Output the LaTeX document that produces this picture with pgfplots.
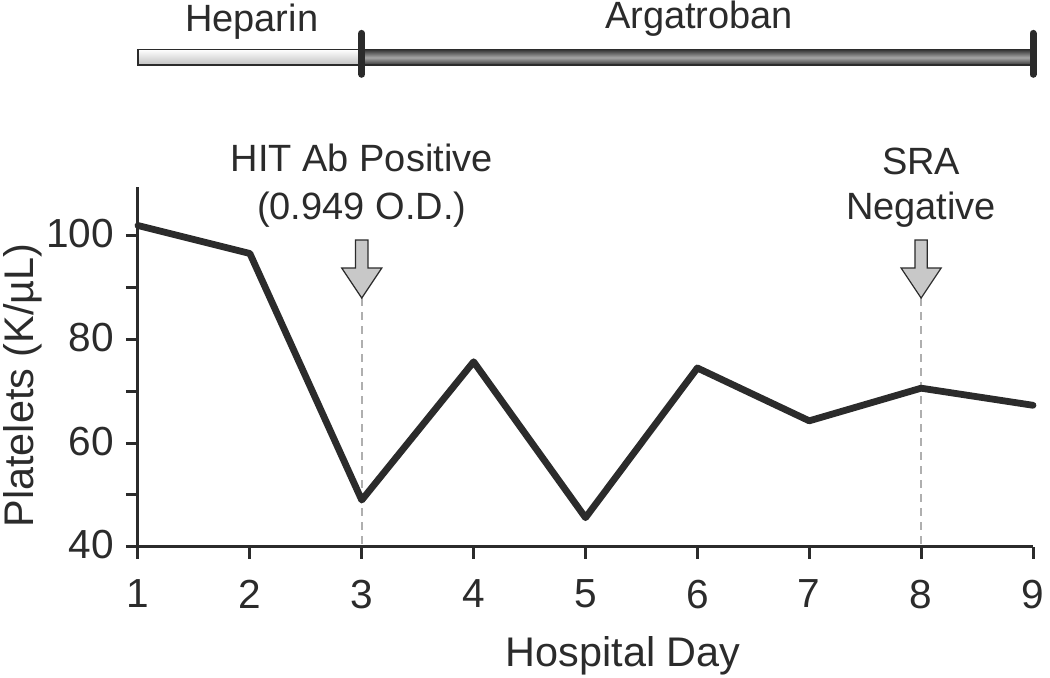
\documentclass[border=0pt]{standalone}
\usepackage{pgfplots}
\pgfplotsset{compat=1.18}
\usepackage{fontspec}
\setmainfont{Liberation Sans}
\definecolor{ink}{HTML}{2B2B2B}
\definecolor{arrowfill}{HTML}{C8C8C8}
\definecolor{dashgray}{HTML}{AFAFAF}

\begin{document}
\begin{tikzpicture}
% page = 1050 x 678 px at 0.5pt per px, axis origin at px (138, 546.7)
\useasboundingbox (-69pt,-65.65pt) rectangle (456pt,273.35pt);
\begin{axis}[
    scale only axis,
    width=447.5pt, height=180pt,
    xmin=1, xmax=9,
    ymin=40, ymax=109.5,
    clip=false,
    axis x line=bottom,
    axis y line=left,
    axis line style={-, line width=1.5pt, color=ink},
    xtick={1,...,9},
    ytick={40,60,80,100},
    minor ytick={50,70,90},
    tick align=outside,
    major tick length=6pt,
    minor tick length=6pt,
    tick style={line width=1.5pt, color=ink},
    tick label style={font=\fontsize{20.3}{24}\selectfont, text=ink},
    xticklabel style={yshift=-7pt},
    yticklabel style={yshift=1pt, xshift=-2.5pt},
    /pgf/number format/assume math mode=true,
    font=\fontsize{19}{23}\selectfont,
]
% treatment bars
\shade[top color=white, bottom color=black!25, draw=ink, line width=0.8pt]
    (1,132.94) rectangle (3,135.97);
\shade[top color=black!80, bottom color=black!80, middle color=black!35, draw=ink, line width=0.8pt]
    (3,132.94) rectangle (9,135.97);
\draw[line width=3.5pt, ink, line cap=round] (3,131.2) -- (3,139.1);
\draw[line width=3.5pt, ink, line cap=round] (9,131.2) -- (9,139.1);
\node[anchor=base, text=ink] at (2.016,139.4) {Heparin};
\node[anchor=base, text=ink] at (6.015,140.0) {Argatroban};

% test markers
\draw[dashgray, line width=0.8pt, dash pattern=on 4pt off 3pt] (3,88) -- (3,40);
\draw[dashgray, line width=0.8pt, dash pattern=on 4pt off 3pt] (8,88) -- (8,40);
\filldraw[fill=arrowfill, draw=ink, line width=0.6pt]
    (2.945,99.2) -- (3.055,99.2) -- (3.055,93.8) -- (3.179,93.8)
    -- (3,88) -- (2.821,93.8) -- (2.945,93.8) -- cycle;
\filldraw[fill=arrowfill, draw=ink, line width=0.6pt]
    (7.945,99.2) -- (8.055,99.2) -- (8.055,93.8) -- (8.179,93.8)
    -- (8,88) -- (7.821,93.8) -- (7.945,93.8) -- cycle;
\node[anchor=base, text=ink] at (3,112.35) {HIT Ab Positive};
\node[anchor=base, text=ink] at (3,103.17) {(0.949 O.D.)};
\node[anchor=base, text=ink] at (8,111.9) {SRA};
\node[anchor=base, text=ink] at (8,103.1) {Negative};

% platelet counts
\addplot[ink, line width=3.4pt, line cap=round, line join=round] coordinates {
    (1,102.0) (2,96.6) (3,49.0) (4,75.7) (5,45.6) (6,74.5) (7,64.3) (8,70.6) (9,67.3)
};

% axis titles
\node[rotate=90, text=ink, font=\fontsize{20.7}{24}\selectfont] at (-0.028,71.1) {Platelets (K/µL)};
\node[anchor=base, text=ink, font=\fontsize{20.7}{24}\selectfont] at (5.338,16.85) {Hospital Day};
\end{axis}
\end{tikzpicture}
\end{document}
